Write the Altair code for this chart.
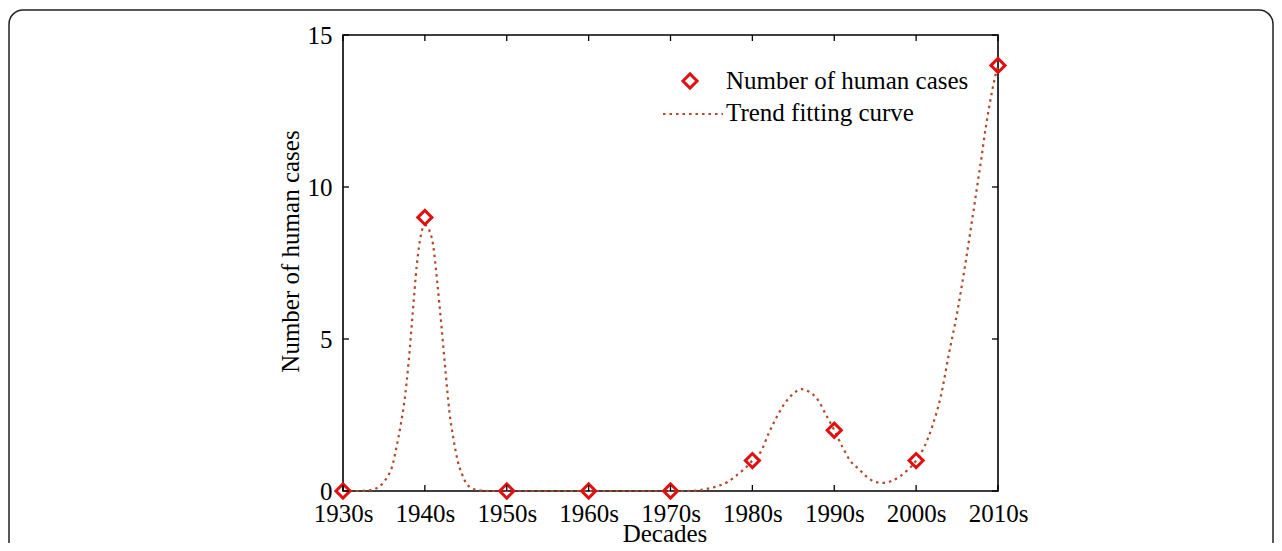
import altair as alt
import pandas as pd

# ---- data ----
decades = [1930, 1940, 1950, 1960, 1970, 1980, 1990, 2000, 2010]
cases = [0, 9, 0, 0, 0, 1, 2, 1, 14]

curve_x = [1930, 1932, 1933, 1934, 1935, 1935.5, 1936, 1936.5, 1937, 1937.5,
           1938, 1938.5, 1939, 1939.5, 1940, 1940.5, 1941, 1941.5, 1942, 1942.5,
           1943, 1943.5, 1944, 1944.5, 1945, 1946, 1947, 1948, 1955, 1960,
           1965, 1970, 1972, 1973, 1974, 1975, 1976, 1977, 1978, 1979,
           1980, 1981, 1982, 1983, 1984, 1985, 1986, 1987, 1988, 1989,
           1990, 1991, 1992, 1993, 1994, 1995, 1996, 1997, 1998, 1999,
           2000, 2001, 2002, 2003, 2004, 2005, 2006, 2007,
           2007.5, 2008, 2008.5, 2009, 2009.5, 2010]
curve_y = [0, 0, 0.02, 0.08, 0.3, 0.5, 0.8, 1.4, 2.1, 2.95,
           4.2, 5.8, 7.4, 8.4, 8.75, 8.6, 8.1, 6.9, 5.5, 4.0,
           2.6, 1.7, 1.0, 0.58, 0.28, 0.06, 0.01, 0, 0, 0,
           0, 0, 0, 0.01, 0.05, 0.1, 0.18, 0.3, 0.5, 0.72,
           1.0, 1.28, 1.9, 2.45, 2.9, 3.2, 3.35, 3.25, 3.0, 2.5,
           2.0, 1.45, 0.98, 0.72, 0.46, 0.3, 0.27, 0.33, 0.48, 0.7,
           1.0, 1.45, 2.15, 3.1, 4.5, 5.85, 7.45, 9.2,
           10.1, 11.0, 11.95, 12.75, 13.45, 14.0]

x_ticks = decades
y_ticks = [0, 5, 10, 15]
legend_labels = ["Number of human cases", "Trend fitting curve"]

W, H = 655, 456
FONT = "Liberation Serif"
FS = 25
RED = "#e01010"
BROWN = "#b0482c"

pts = pd.DataFrame({"decade": decades, "cases": cases})
curve = pd.DataFrame({"year": curve_x, "value": curve_y})
xt = pd.DataFrame({"t": x_ticks})
yt = pd.DataFrame({"t": y_ticks})
one = pd.DataFrame({"k": [0]})

xscale = alt.Scale(domain=[1930, 2010], nice=False, zero=False)
yscale = alt.Scale(domain=[0, 15], nice=False)

xaxis = alt.Axis(values=x_ticks, labelExpr="datum.value + 's'", tickSize=0,
                 domain=False, grid=False, labelPadding=10, labelFontSize=FS,
                 labelFont=FONT, labelColor="black", labelOverlap=False,
                 labelFlush=False, title="Decades",
                 titleFont=FONT, titleFontSize=FS, titleFontWeight="normal",
                 titleColor="black", titleY=50, titleBaseline="alphabetic",
                 titleX=W / 2 - 6)
yaxis = alt.Axis(values=y_ticks, tickSize=0, domain=False, grid=False,
                 labelPadding=11, labelFontSize=FS, labelFont=FONT,
                 labelColor="black", labelBaseline="middle", labelFlush=False,
                 labelOverlap=False,
                 title="Number of human cases", titleFont=FONT,
                 titleFontSize=FS, titleFontWeight="normal", titleColor="black",
                 titleX=-53, titleY=216, titleAngle=270,
                 titleBaseline="middle", titleAlign="center")

frame = alt.Chart(one).mark_rect(filled=False, stroke="#222", strokeWidth=1.5,
                                 cornerRadius=14, clip=False).encode(
    x=alt.value(-334), x2=alt.value(930), y=alt.value(-25), y2=alt.value(620))

line = alt.Chart(curve).mark_line(color=BROWN, strokeWidth=2.2,
                                  strokeDash=[2.5, 4], interpolate="monotone").encode(
    x=alt.X("year:Q", scale=xscale, axis=xaxis),
    y=alt.Y("value:Q", scale=yscale, axis=yaxis))

marker_style = dict(shape="diamond", filled=False, color=RED,
                    strokeWidth=3, size=200, opacity=1)
points = alt.Chart(pts).mark_point(**marker_style).encode(
    x=alt.X("decade:Q", scale=xscale),
    y=alt.Y("cases:Q", scale=yscale))

tick_style = dict(color="black", strokeWidth=1.3)
bottom_ticks = alt.Chart(xt).mark_rule(**tick_style).encode(
    x=alt.X("t:Q", scale=xscale), y=alt.value(H), y2=alt.value(H - 6))
top_ticks = alt.Chart(xt).mark_rule(**tick_style).encode(
    x=alt.X("t:Q", scale=xscale), y=alt.value(0), y2=alt.value(6))
left_ticks = alt.Chart(yt).mark_rule(**tick_style).encode(
    y=alt.Y("t:Q", scale=yscale), x=alt.value(0), x2=alt.value(6))
right_ticks = alt.Chart(yt).mark_rule(**tick_style).encode(
    y=alt.Y("t:Q", scale=yscale), x=alt.value(W), x2=alt.value(W - 6))

leg_marker = alt.Chart(one).mark_point(**marker_style).encode(
    x=alt.value(347), y=alt.value(46))
leg_line = alt.Chart(one).mark_rule(color=BROWN, strokeWidth=2.2,
                                    strokeDash=[2.5, 4]).encode(
    x=alt.value(320), x2=alt.value(380), y=alt.value(79))
leg_text1 = alt.Chart(one).mark_text(text=legend_labels[0], font=FONT, fontSize=FS,
                                     align="left", baseline="middle", color="black").encode(
    x=alt.value(383), y=alt.value(46))
leg_text2 = alt.Chart(one).mark_text(text=legend_labels[1], font=FONT, fontSize=FS,
                                     align="left", baseline="middle", color="black").encode(
    x=alt.value(383), y=alt.value(78))

chart = alt.layer(
    frame, line, points, bottom_ticks, top_ticks, left_ticks, right_ticks,
    leg_marker, leg_line, leg_text1, leg_text2
).properties(
    width=W, height=H,
    autosize=alt.AutoSizeParams(type="none"),
    padding={"left": 335, "top": 27, "right": 276, "bottom": 52},
    background="white",
).configure_view(stroke="black", strokeWidth=1.6, fill="white")

chart.save("out.html", embed_options={"renderer": "svg", "actions": False})
